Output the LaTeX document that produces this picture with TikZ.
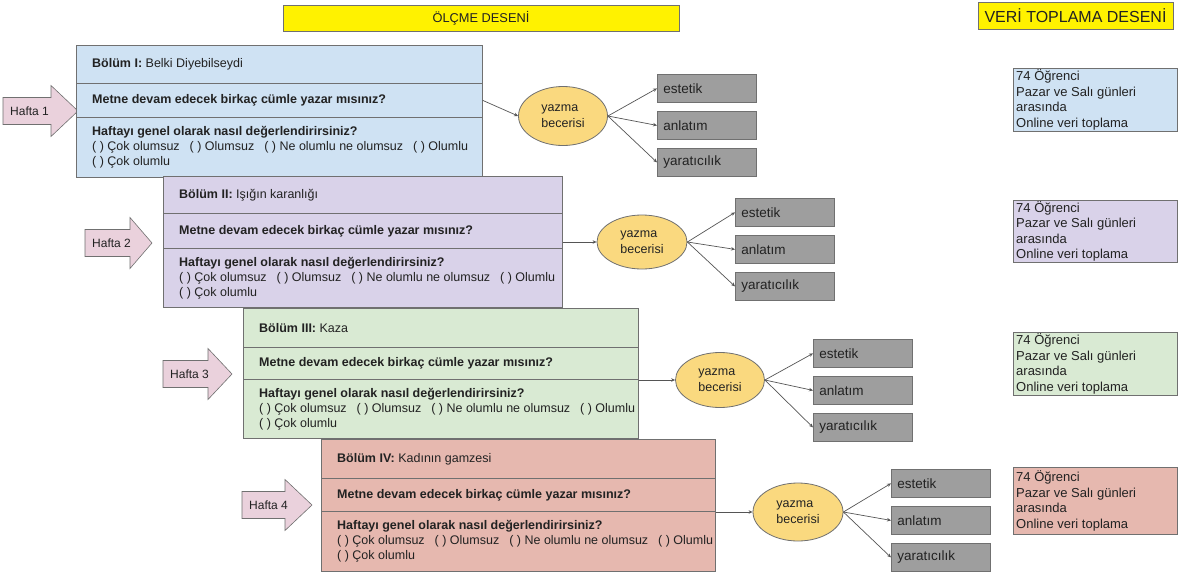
\documentclass[tikz,border=0pt]{standalone}
\usepackage{fontspec}
\setmainfont{Liberation Sans}
\usetikzlibrary{shapes.geometric,arrows.meta}
\definecolor{bl}{HTML}{CFE2F3}
\definecolor{pu}{HTML}{D9D2E9}
\definecolor{gr}{HTML}{D9EAD3}
\definecolor{rd}{HTML}{E6B8AF}
\definecolor{pk}{HTML}{EAD1DC}
\definecolor{yl}{HTML}{FAD97F}
\definecolor{gy}{HTML}{9E9E9E}
\definecolor{bd}{HTML}{707070}
\definecolor{tx}{HTML}{222222}
\definecolor{ln}{HTML}{555555}
\tikzset{
  sbox/.style={draw=bd, line width=0.8pt, anchor=north west, inner sep=0pt},
  stext/.style={align=left, inner sep=0pt, text=tx, font=\fontsize{12.5}{15}\selectfont},
  dtext/.style={align=left, inner sep=0pt, text=tx, font=\fontsize{13}{15.5}\selectfont},
  hdr/.style={draw=bd, line width=0.6pt, fill=yellow, inner sep=0pt, text=tx},
  ell/.style={ellipse, draw=bd, line width=0.8pt, fill=yl, inner sep=0pt, align=left, text=tx, font=\fontsize{12.5}{16}\selectfont},
  gbox/.style={draw=bd, line width=0.8pt, fill=gy, anchor=north west, inner xsep=6pt, inner ysep=0pt, text width=87pt, minimum height=28pt, align=left, text=tx, font=\fontsize{13.5}{15}\selectfont},
  harrow/.style={draw=bd, line width=0.6pt, fill=pk},
  htext/.style={inner sep=0pt, text=tx, font=\fontsize{12}{14}\selectfont},
  conn/.style={draw=ln, line width=0.7pt, -{Stealth[length=4pt,width=3.5pt]}}
}
\newcommand\secbox[6]{%
  \node[sbox, fill=#6, minimum width={(#3-#2)*1pt}, minimum height={(#5-#4)*1pt}] (#1) at (#2,#4) {};}
\newcommand\sectext[2]{\node[stext, anchor=west] (#1t) at ([xshift=16pt]#1.west) {#2};}
\newcommand\opts{( ) Çok olumsuz\hspace{10pt}( ) Olumsuz\hspace{10pt}( ) Ne olumlu ne olumsuz\hspace{10pt}( ) Olumlu}
\newcommand\evalq{\textbf{Haftayı genel olarak nasıl değerlendirirsiniz?}\\\opts\\( ) Çok olumlu}
\newcommand\metne{\textbf{Metne devam edecek birkaç cümle yazar mısınız?}}
\newcommand\hafta[6]{%
  \filldraw[harrow] (#2,#5-13.5) -- (#3,#5-13.5) -- (#3,#5-25.5) -- (#4,#5) -- (#3,#5+25.5) -- (#3,#5+13.5) -- (#2,#5+13.5) -- cycle;
  \node[htext, anchor=west] (#1) at (#2+7,#5) {#6};}
\newcommand\gboxes[4]{% prefix, x, top1, ellipse
  \node[gbox] (#1a) at (#2,#3) {estetik};
  \node[gbox] (#1b) at (#2,#3+37) {anlatım};
  \node[gbox] (#1c) at (#2,#3+74) {yaratıcılık};
  \draw[conn] (#4.east) -- (#1a.west);
  \draw[conn] (#4.east) -- (#1b.west);
  \draw[conn] (#4.east) -- (#1c.west);}
\newcommand\dbox[4]{% name, top, height, color
  \node[sbox, fill=#4, minimum width=164pt, minimum height={#3*1pt}] (#1) at (1013,#2) {};
  \node[dtext, anchor=west] (#1t) at ([xshift=3pt]#1.west) {74 Öğrenci\\Pazar ve Salı günleri\\arasında\\Online veri toplama};}
\begin{document}
\begin{tikzpicture}[x=1pt,y=-1pt]
\useasboundingbox (0,0) rectangle (1179,576);
\fill[white] (0,0) rectangle (1179,576);
% headers
\node[hdr, minimum width=396pt, minimum height=26pt, font=\fontsize{12.8}{15}\selectfont] (h1) at (481,18) {ÖLÇME DESENİ};
\node[hdr, minimum width=195pt, minimum height=27pt, font=\fontsize{16}{18}\selectfont] (h2) at (1075.5,15.5) {VERİ TOPLAMA DESENİ};
% week arrows
\hafta{w1}{3}{51}{78}{111}{Hafta 1}
\hafta{w2}{85}{130}{152}{243}{Hafta 2}
\hafta{w3}{163}{208}{232}{374}{Hafta 3}
\hafta{w4}{242}{285}{312}{505}{Hafta 4}
% block 1
\secbox{b1a}{76}{482}{45}{83}{bl}
\secbox{b1b}{76}{482}{83}{117}{bl}
\secbox{b1c}{76}{482}{117}{177}{bl}
\sectext{b1a}{\textbf{Bölüm I:} Belki Diyebilseydi}
\sectext{b1b}{\metne}
\sectext{b1c}{\evalq}
% block 2
\secbox{b2a}{163}{562}{176}{213}{pu}
\secbox{b2b}{163}{562}{213}{248}{pu}
\secbox{b2c}{163}{562}{248}{307}{pu}
\sectext{b2a}{\textbf{Bölüm II:} Işığın karanlığı}
\sectext{b2b}{\metne}
\sectext{b2c}{\evalq}
% block 3
\secbox{b3a}{243}{638}{308}{347}{gr}
\secbox{b3b}{243}{638}{347}{379}{gr}
\secbox{b3c}{243}{638}{379}{438}{gr}
\sectext{b3a}{\textbf{Bölüm III:} Kaza}
\sectext{b3b}{\metne}
\sectext{b3c}{\evalq}
% block 4
\secbox{b4a}{321}{715}{439}{478}{rd}
\secbox{b4b}{321}{715}{478}{511}{rd}
\secbox{b4c}{321}{715}{511}{571}{rd}
\sectext{b4a}{\textbf{Bölüm IV:} Kadının gamzesi}
\sectext{b4b}{\metne}
\sectext{b4c}{\evalq}
% ellipses
\node[ell, minimum width=89pt, minimum height=59pt] (e1) at (563,116) {yazma\\becerisi};
\node[ell, minimum width=90pt, minimum height=54pt] (e2) at (642,242) {yazma\\becerisi};
\node[ell, minimum width=89pt, minimum height=55pt] (e3) at (720,380) {yazma\\becerisi};
\node[ell, minimum width=90pt, minimum height=58pt] (e4) at (798,512) {yazma\\becerisi};
\draw[conn] (b1b.east) -- (e1.west);
\draw[conn] (e2.west -| b2b.east) -- (e2.west);
\draw[conn] (e3.west -| b3b.east) -- (e3.west);
\draw[conn] (e4.west -| b4b.east) -- (e4.west);
% skill boxes
\gboxes{g1}{657}{74}{e1}
\gboxes{g2}{735}{198}{e2}
\gboxes{g3}{813}{339}{e3}
\gboxes{g4}{891}{469}{e4}
% data collection boxes
\dbox{d1}{68}{63}{bl}
\dbox{d2}{200}{62}{pu}
\dbox{d3}{332}{63}{gr}
\dbox{d4}{467}{67}{rd}
\end{tikzpicture}
\end{document}
